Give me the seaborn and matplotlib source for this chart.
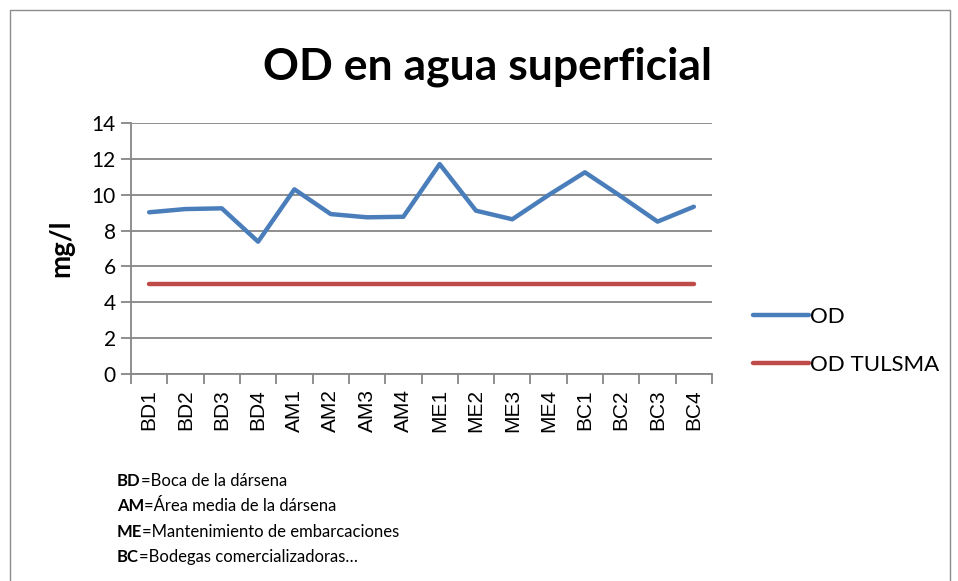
import pandas as pd
import matplotlib.pyplot as plt
import seaborn as sns
from matplotlib.patches import Rectangle
from matplotlib.lines import Line2D

# Datos
sitios = ["BD1", "BD2", "BD3", "BD4", "AM1", "AM2", "AM3", "AM4",
          "ME1", "ME2", "ME3", "ME4", "BC1", "BC2", "BC3", "BC4"]
od = [9.02, 9.2, 9.24, 7.38, 10.3, 8.92, 8.74, 8.77,
      11.71, 9.11, 8.63, 9.98, 11.25, 9.9, 8.5, 9.33]
od_tulsma = [5] * len(sitios)
y_ticks = [0, 2, 4, 6, 8, 10, 12, 14]

notas = [("BD", "=Boca de la dársena"),
         ("AM", "=Área media de la dársena"),
         ("ME", "=Mantenimiento de embarcaciones"),
         ("BC", "=Bodegas comercializadoras…")]

df = pd.DataFrame({"Sitio": sitios, "OD": od, "OD TULSMA": od_tulsma})
df_long = df.melt(id_vars="Sitio", var_name="Serie", value_name="mg/l")

sns.set_theme(style="white")
plt.rcParams["font.family"] = ["Lato", "DejaVu Sans"]
plt.rcParams["text.color"] = "black"
plt.rcParams["xtick.color"] = "black"
plt.rcParams["ytick.color"] = "black"
plt.rcParams["axes.labelcolor"] = "black"

fig = plt.figure(figsize=(9.58, 5.81), dpi=100)
ax = fig.add_axes([131 / 958, 1 - 374 / 581, (712 - 131) / 958, (374 - 123) / 581])

# marco exterior
fig.patches.append(Rectangle((10 / 958, -0.01), 940 / 958, 1 - 10 / 581 + 0.01,
                             transform=fig.transFigure, fill=False,
                             edgecolor="#8c8c8c", linewidth=1))

sns.lineplot(data=df_long, x="Sitio", y="mg/l", hue="Serie", sort=False,
             palette={"OD": "#4A7EBB", "OD TULSMA": "#BE4B48"},
             linewidth=3.2, ax=ax, legend=False)
for ln in ax.lines:
    ln.set_solid_capstyle("round")
    ln.set_solid_joinstyle("round")

ax.set_ylim(0, 14)
ax.set_yticks(y_ticks)
ax.set_xlim(-0.5, len(sitios) - 0.5)
ax.yaxis.grid(True, color="#868686", linewidth=1.3)
ax.set_axisbelow(True)
for s in ["top", "right"]:
    ax.spines[s].set_visible(False)
ax.spines["left"].set_color("#868686")
ax.spines["left"].set_linewidth(1.3)
ax.spines["bottom"].set_color("#868686")
ax.spines["bottom"].set_linewidth(1.3)

ax.tick_params(axis="y", labelsize=15, length=7, width=1.3, color="#868686",
               left=True, pad=4)
ax.set_xticks(range(len(sitios)))
ax.set_xticklabels(sitios, rotation=90, family=["Liberation Sans", "DejaVu Sans"])
ax.tick_params(axis="x", which="major", labelsize=15, length=0, pad=11)
ax.set_xticks([i - 0.5 for i in range(len(sitios) + 1)], minor=True)
ax.tick_params(axis="x", which="minor", length=7, width=1.3, color="#868686",
               bottom=True)

ax.set_xlabel("")
ax.set_ylabel("mg/l", fontsize=20, fontweight="bold")
ax.yaxis.set_label_coords(-(131 - 74) / 581, 0.5)

fig.text(487 / 958, 1 - 67 / 581, "OD en agua superficial", fontsize=32,
         fontweight="bold", ha="center", va="center")

# leyenda
handles = [Line2D([], [], color="#4A7EBB", linewidth=3.2, solid_capstyle="round"),
           Line2D([], [], color="#BE4B48", linewidth=3.2, solid_capstyle="round")]
fig.legend(handles, ["OD", "OD TULSMA"], loc="center left",
           bbox_to_anchor=(733 / 958, 1 - 341 / 581), frameon=False,
           fontsize=16, handlelength=2.5, handletextpad=0.05, labelspacing=1.25)

# notas
for i, (abrev, texto) in enumerate(notas):
    y = 1 - (481 + i * 25.3) / 581
    t = fig.text(117 / 958, y, abrev, fontsize=12, fontweight="bold",
                 ha="left", va="center")
    ax.annotate(texto, xy=(1, 0.5), xycoords=t, va="center", ha="left",
                fontsize=12, annotation_clip=False)

fig.savefig("out.png", dpi=100)
